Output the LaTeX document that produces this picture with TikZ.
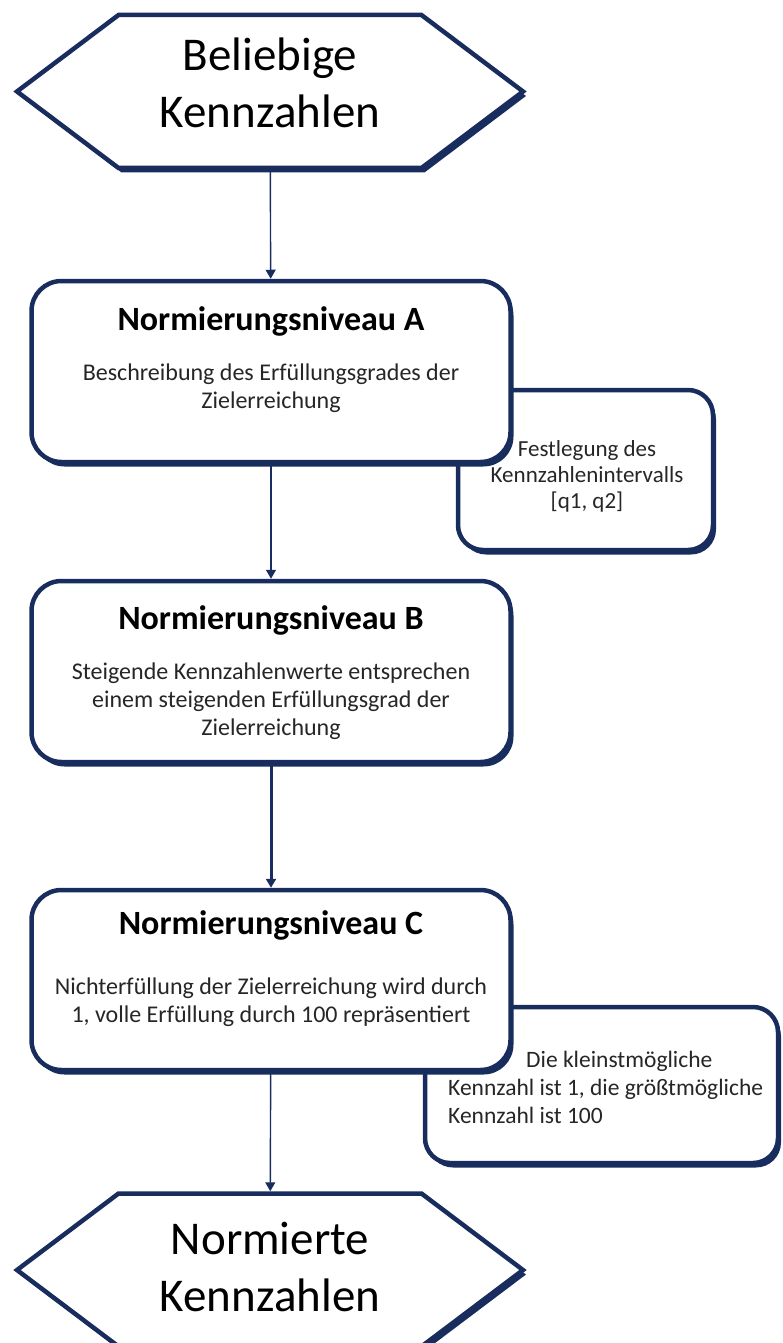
\documentclass[tikz,border=0pt]{standalone}
\usepackage{fontspec}
\setmainfont{Carlito}
\usetikzlibrary{arrows.meta,shapes.symbols,shadows,positioning}
\definecolor{navy}{RGB}{24,44,94}
\definecolor{bodygray}{RGB}{38,38,38}

\begin{document}
\begin{tikzpicture}[x=1pt, y=-1pt, >={Triangle[length=9pt,width=10pt]},
    shade/.style={drop shadow={shadow xshift=3pt, shadow yshift=-4.5pt, fill=navy, opacity=1}},
    hexbox/.style={signal, signal to=west and east, signal pointer angle=74,
        draw=navy, line width=4.5pt, fill=white, shade, inner sep=0pt,
        minimum width=506pt, minimum height=153pt, align=center,
        font=\fontsize{47}{57}\selectfont},
    mainbox/.style={draw=navy, line width=4.5pt, fill=white, rounded corners=30pt,
        shade, minimum width=479pt, minimum height=181pt, inner sep=0pt},
    sidebox/.style={draw=navy, line width=4.5pt, fill=white, rounded corners=25pt,
        shade, inner sep=0pt},
    title/.style={font=\bfseries\fontsize{34}{40}\selectfont, inner sep=0pt, anchor=base},
    bodytext/.style={font=\fontsize{24}{28}\selectfont, text=bodygray, align=center,
        inner sep=0pt, anchor=north},
    sidetext/.style={font=\fontsize{23}{26}\selectfont, text=bodygray, inner sep=0pt},
    flow/.style={->, navy, line width=1.4pt}]

    \useasboundingbox (0,0) rectangle (783,1343);

    % Side notes (behind the main boxes)
    \node[sidebox, minimum width=255pt, minimum height=160pt] (noteA) at (585.5,470) {};
    \node[sidetext, align=center, anchor=north] (noteAtext) at (587,440)
        {Festlegung des\\Kennzahlenintervalls\\{[q1, q2]}};
    \node[sidebox, minimum width=353pt, minimum height=156pt] (noteC) at (601.5,1085) {};
    \node[sidetext, align=left, anchor=north west, font=\fontsize{23.5}{28}\selectfont] (noteCtext) at (448,1051)
        {\hspace*{78pt}Die kleinstmögliche\\Kennzahl ist 1, die größtmögliche\\Kennzahl ist 100};

    % Start and end
    \node[hexbox, text depth=18pt] (start) at (270,91.5) {Beliebige\\Kennzahlen};
    \node[hexbox, text depth=6pt] (finish) at (270,1270) {Normierte\\Kennzahlen};

    % Levels A, B, C
    \node[mainbox] (levelA) at (271,371.5) {};
    \node[title] (titleA) at ([yshift=-52pt]levelA.north) {Normierungsniveau A};
    \node[bodytext] (bodyA) at ([yshift=-85pt]levelA.north)
        {Beschreibung des Erfüllungsgrades der\\Zielerreichung};

    \node[mainbox] (levelB) at (271,671.5) {};
    \node[title] (titleB) at ([yshift=-51pt]levelB.north) {Normierungsniveau B};
    \node[bodytext] (bodyB) at ([yshift=-84pt]levelB.north)
        {Steigende Kennzahlenwerte entsprechen\\einem steigenden Erfüllungsgrad der\\Zielerreichung};

    \node[mainbox, minimum height=180pt] (levelC) at (271,980) {};
    \node[title] (titleC) at ([yshift=-47pt]levelC.north) {Normierungsniveau C};
    \node[bodytext] (bodyC) at ([yshift=-90pt]levelC.north)
        {Nichterfüllung der Zielerreichung wird durch\\1, volle Erfüllung durch 100 repräsentiert};

    % Flow
    \draw[flow] (start) -- (levelA);
    \draw[flow] (levelA) -- (levelB);
    \draw[flow, line width=3pt] (levelB) -- (levelC);
    \draw[flow] (levelC) -- (finish);
\end{tikzpicture}
\end{document}
